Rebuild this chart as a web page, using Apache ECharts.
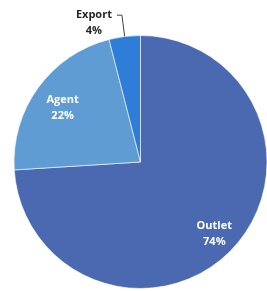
<!DOCTYPE html>
<html><head><meta charset="utf-8">
<script src="https://cdn.jsdelivr.net/npm/echarts@6/dist/echarts.min.js"></script>
<style>html,body{margin:0;padding:0;background:#fff}#c{width:267px;height:291px}</style>
</head><body><div id="c"></div>
<script>
const categories = ['Outlet', 'Agent', 'Export'];
const values = [74, 22, 4];
const colors = ['#4A69B1', '#5E9CD3', '#2E7DD8'];

const chart = echarts.init(document.getElementById('c'), null, {renderer: 'canvas'});
const font = '"Open Sans", "Liberation Sans", sans-serif';
const data = categories.map((n, i) => ({name: n, value: values[i], itemStyle: {color: colors[i]}}));
const center = [140.5, 162];
const R = 126.5;
const labelShift = [[0, 3], [4, 5.5], [0, 0]];
const txt = {color: '#262626', fontFamily: font, fontWeight: 'bold', fontSize: 11, lineHeight: 16, align: 'center'};
chart.setOption({
  animation: false,
  series: [
    {
      type: 'pie', center: center, radius: [0, R], startAngle: 90, clockwise: true,
      itemStyle: {borderColor: '#fff', borderWidth: 0.6},
      data: data.map((d, i) => ({
        ...d,
        label: i === 2 ? {
          show: true, position: 'outside', formatter: '{a|{b}}\n{a|{d}%}',
          padding: [16, 0, 0, 0],
          rich: {a: txt}
        } : {show: false},
        labelLine: i === 2 ? {show: true, length: 21.5, length2: 5, lineStyle: {color: '#404040', width: 1}} : {show: false}
      })),
      percentPrecision: 0
    },
    {
      type: 'pie', center: center, radius: [70, R], startAngle: 90, clockwise: true, silent: true,
      data: data.map((d, i) => ({
        name: d.name, value: d.value, itemStyle: {color: 'rgba(0,0,0,0)', borderWidth: 0},
        label: {show: i !== 2}
      })),
      label: {position: 'inside', formatter: '{b}\n{d}%', color: '#fff', fontFamily: font, fontWeight: 'bold', fontSize: 11, lineHeight: 16},
      labelLine: {show: false},
      labelLayout: function (p) { return {dx: labelShift[p.dataIndex][0], dy: labelShift[p.dataIndex][1]}; },
      percentPrecision: 0
    }
  ]
});
</script></body></html>
